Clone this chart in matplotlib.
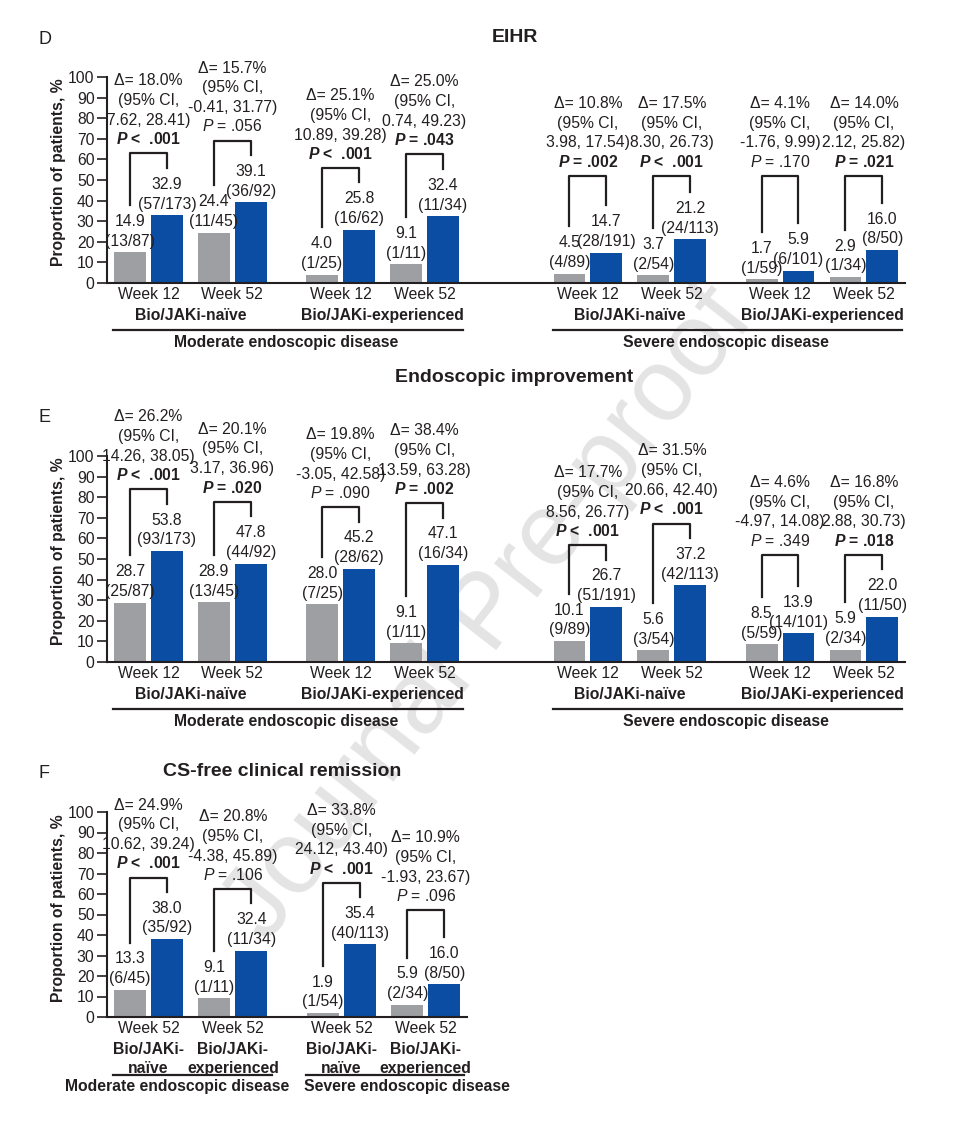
import numpy as np
import matplotlib
matplotlib.use("Agg")
import matplotlib.pyplot as plt

# -------- DATA --------

# D: EIHR (moderate disease groups first, then severe)
eihr_weeks = ["Week 12", "Week 52", "Week 12", "Week 52",
              "Week 12", "Week 52", "Week 12", "Week 52"]
eihr_pbo = [14.9, 24.4, 4.0, 9.1, 4.5, 3.7, 1.7, 2.9]
eihr_pbo_n = ["13/87", "11/45", "1/25", "1/11", "4/89", "2/54", "1/59", "1/34"]
eihr_act = [32.9, 39.1, 25.8, 32.4, 14.7, 21.2, 5.9, 16.0]
eihr_act_n = ["57/173", "36/92", "16/62", "11/34", "28/191", "24/113", "6/101", "8/50"]
eihr_delta = [18.0, 15.7, 25.1, 25.0, 10.8, 17.5, 4.1, 14.0]
eihr_ci = ["7.62, 28.41", "-0.41, 31.77", "10.89, 39.28", "0.74, 49.23",
           "3.98, 17.54", "8.30, 26.73", "-1.76, 9.99", "2.12, 25.82"]
eihr_p = ["<  .001", "= .056", "<  .001", "= .043",
          "= .002", "<  .001", "= .170", "= .021"]

# E: endoscopic improvement
ei_weeks = eihr_weeks
ei_pbo = [28.7, 28.9, 28.0, 9.1, 10.1, 5.6, 8.5, 5.9]
ei_pbo_n = ["25/87", "13/45", "7/25", "1/11", "9/89", "3/54", "5/59", "2/34"]
ei_act = [53.8, 47.8, 45.2, 47.1, 26.7, 37.2, 13.9, 22.0]
ei_act_n = ["93/173", "44/92", "28/62", "16/34", "51/191", "42/113", "14/101", "11/50"]
ei_delta = [26.2, 20.1, 19.8, 38.4, 17.7, 31.5, 4.6, 16.8]
ei_ci = ["14.26, 38.05", "3.17, 36.96", "-3.05, 42.58", "13.59, 63.28",
         "8.56, 26.77", "20.66, 42.40", "-4.97, 14.08", "2.88, 30.73"]
ei_p = ["<  .001", "= .020", "= .090", "= .002",
        "<  .001", "<  .001", "= .349", "= .018"]

# F: CS-free clinical remission (week 52 only)
cs_weeks = ["Week 52", "Week 52", "Week 52", "Week 52"]
cs_subgroups = ["Bio/JAKi-\nnaïve", "Bio/JAKi-\nexperienced",
                "Bio/JAKi-\nnaïve", "Bio/JAKi-\nexperienced"]
cs_pbo = [13.3, 9.1, 1.9, 5.9]
cs_pbo_n = ["6/45", "1/11", "1/54", "2/34"]
cs_act = [38.0, 32.4, 35.4, 16.0]
cs_act_n = ["35/92", "11/34", "40/113", "8/50"]
cs_delta = [24.9, 20.8, 33.8, 10.9]
cs_ci = ["10.62, 39.24", "-4.38, 45.89", "24.12, 43.40", "-1.93, 23.67"]
cs_p = ["<  .001", "= .106", "<  .001", "= .096"]

subgroups = ["Bio/JAKi-naïve", "Bio/JAKi-experienced"]
diseases = ["Moderate endoscopic disease", "Severe endoscopic disease"]
yticks = list(range(0, 101, 10))

# -------- STYLE --------

plt.rcParams['font.family'] = ['Liberation Sans', 'DejaVu Sans']
plt.rcParams['mathtext.fontset'] = 'custom'
plt.rcParams['mathtext.rm'] = 'Liberation Sans'
plt.rcParams['mathtext.it'] = 'Liberation Sans:italic'
plt.rcParams['mathtext.bf'] = 'Liberation Sans:bold'
HAS_BFIT = 'mathtext.bfit' in plt.rcParams
if HAS_BFIT:
    plt.rcParams['mathtext.bfit'] = 'Liberation Sans:italic:bold'

GRAY = '#9d9fa3'
BLUE = '#0a4da2'
INK = '#231f20'
FS = 11.3
BAR_W = 0.38
OFF = 0.22
PAIR_STEP = 1.29
BLOCK_STEP = 1.95

W, H = 965, 1123


def px_rect(left, top, right, bottom):
    return [left / W, 1 - bottom / H, (right - left) / W, (bottom - top) / H]


def group_positions(n):
    pos, x = [], 0.0
    for i in range(n):
        pos.append(x)
        if i % 4 == 3:
            x += BLOCK_STEP
        elif i % 2 == 1:
            x += PAIR_STEP
        else:
            x += 1.0
    return np.array(pos)


def style_axes(ax, pos):
    ax.set_facecolor('none')
    ax.set_xlim(pos[0] - 0.494, pos[-1] + 0.49)
    ax.set_ylim(0, 100)
    ax.set_yticks(yticks)
    for s in ['top', 'right']:
        ax.spines[s].set_visible(False)
    for s in ['left', 'bottom']:
        ax.spines[s].set_color(INK)
        ax.spines[s].set_linewidth(1.5)
    ax.tick_params(axis='y', length=7, width=1.2, color=INK,
                   labelsize=FS, labelcolor=INK, pad=2)
    ax.tick_params(axis='x', bottom=False, labelbottom=False)


def draw_bars(ax, pos, pbo, pbo_n, act, act_n, delta, ci, pvals):
    ax.bar(pos - OFF, pbo, BAR_W, color=GRAY, zorder=2)
    ax.bar(pos + OFF, act, BAR_W, color=BLUE, zorder=2)
    for i, x in enumerate(pos):
        for xx, v, n in [(x - OFF, pbo[i], pbo_n[i]), (x + OFF, act[i], act_n[i])]:
            ax.text(xx, v + 1.8, f"{v:.1f}\n({n})", ha='center', va='bottom',
                    fontsize=FS, color=INK, linespacing=1.4, clip_on=False, zorder=3)
        # bracket
        y_l = pbo[i] + 23
        y_r = act[i] + 23
        y_top = max(max(y_l, y_r) + 7, 52)
        ax.plot([x - OFF, x - OFF, x + OFF, x + OFF], [y_l, y_top, y_top, y_r],
                color=INK, lw=1.6, clip_on=False, zorder=3)
        # difference text
        sig = float(pvals[i].split()[-1]) < 0.05
        if sig:
            ptxt = (r"$\mathbfit{P}$ " if HAS_BFIT else r"$\mathbf{P}$ ") + pvals[i]
        else:
            ptxt = r"$\mathit{P}$ " + pvals[i]
        y_txt = y_top + 3
        ax.text(x, y_txt, ptxt, ha='center', va='bottom', fontsize=FS, color=INK,
                fontweight='bold' if sig else 'normal', clip_on=False)
        ax.annotate(f"Δ= {delta[i]:.1f}%\n(95% CI,\n{ci[i]})", xy=(x, y_txt),
                    xytext=(0, 13.9), textcoords='offset points', ha='center',
                    va='bottom', fontsize=FS, color=INK, linespacing=1.4,
                    annotation_clip=False)


def draw_de_labels(ax, pos, weeks):
    for x, wk in zip(pos, weeks):
        ax.text(x, -5.8, wk, ha='center', va='center', fontsize=FS, color=INK, clip_on=False)
    for b in range(2):
        p = pos[4 * b:4 * b + 4]
        for k in range(2):
            ax.text((p[2 * k] + p[2 * k + 1]) / 2, -16, subgroups[k], ha='center',
                    va='center', fontsize=FS, fontweight='bold', color=INK, clip_on=False)
        ax.plot([p[0] - 0.42, p[-1] + 0.46], [-22.8, -22.8], color=INK, lw=1.6,
                clip_on=False)
        ax.text((p[0] + p[-1]) / 2, -29.1, diseases[b], ha='center', va='center',
                fontsize=FS, fontweight='bold', color=INK, clip_on=False)


# -------- FIGURE --------

fig = plt.figure(figsize=(W / 100, H / 100), dpi=100)

fig.text(490 / W, 1 - 615 / H, "Journal Pre-proof", rotation=52, fontsize=74,
         color='#e4e4e4', ha='center', va='center', zorder=-1)

pos8 = group_positions(8)
pos4 = group_positions(4)

# D
axD = fig.add_axes(px_rect(107, 77, 905, 283))
style_axes(axD, pos8)
draw_bars(axD, pos8, eihr_pbo, eihr_pbo_n, eihr_act, eihr_act_n, eihr_delta, eihr_ci, eihr_p)
draw_de_labels(axD, pos8, eihr_weeks)

# E
axE = fig.add_axes(px_rect(107, 456, 905, 662))
style_axes(axE, pos8)
draw_bars(axE, pos8, ei_pbo, ei_pbo_n, ei_act, ei_act_n, ei_delta, ei_ci, ei_p)
draw_de_labels(axE, pos8, ei_weeks)

# F
axF = fig.add_axes(px_rect(107, 812, 467, 1017))
style_axes(axF, pos4)
draw_bars(axF, pos4, cs_pbo, cs_pbo_n, cs_act, cs_act_n, cs_delta, cs_ci, cs_p)
for x, wk, sg in zip(pos4, cs_weeks, cs_subgroups):
    axF.text(x, -5.4, wk, ha='center', va='center', fontsize=FS, color=INK, clip_on=False)
    axF.text(x, -20.4, sg, ha='center', va='center', fontsize=FS, fontweight='bold',
             color=INK, linespacing=1.35, clip_on=False)
for b in range(2):
    p = pos4[2 * b:2 * b + 2]
    axF.plot([p[0] - 0.42, p[1] + 0.46], [-28.2, -28.2], color=INK, lw=1.6, clip_on=False)
mid = (pos4[1] + pos4[2]) / 2
axF.text(mid + 0.02, -34, diseases[0], ha='right', va='center', fontsize=FS,
         fontweight='bold', color=INK, clip_on=False)
axF.text(mid + 0.2, -34, diseases[1], ha='left', va='center', fontsize=FS,
         fontweight='bold', color=INK, clip_on=False)

# titles, panel letters, y labels
for txt, x, y in [("EIHR", 515, 37), ("Endoscopic improvement", 514, 377),
                  ("CS-free clinical remission", 282, 772)]:
    fig.text(x / W, 1 - y / H, txt, ha='center', va='center', fontsize=14,
             fontweight='bold', color=INK)
for txt, y in [("D", 39), ("E", 417), ("F", 773)]:
    fig.text(38 / W, 1 - y / H, txt, ha='left', va='center', fontsize=13, color=INK)
for y in [172, 551, 908]:
    fig.text(59 / W, 1 - y / H, "Proportion of patients, %", rotation=90, ha='center',
             va='center', fontsize=FS, fontweight='bold', color=INK)

fig.savefig("out.png", dpi=100)
